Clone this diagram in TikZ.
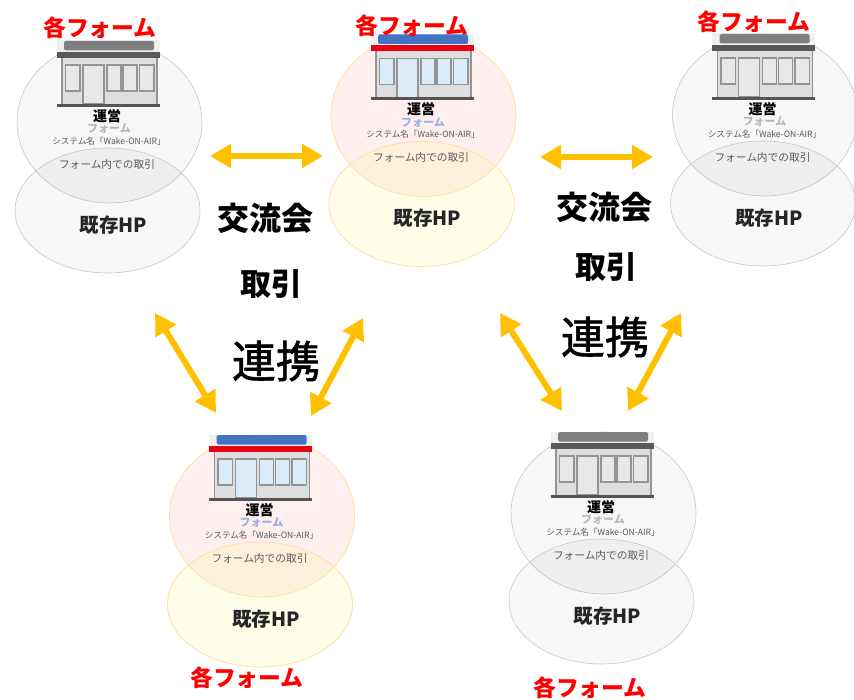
\documentclass[tikz,border=0pt]{standalone}
\usepackage{fontspec}
\setmainfont{Noto Sans CJK JP}
\newfontfamily\tiefont[FakeBold=1.4]{Noto Sans CJK JP}
\usetikzlibrary{arrows.meta,shapes.geometric}
\definecolor{linkcol}{HTML}{FFC000}
\definecolor{signblue}{HTML}{4472C4}
\definecolor{bandred}{HTML}{E60012}
\definecolor{signgray}{HTML}{7F7F7F}
\definecolor{bandgray}{HTML}{595959}
\definecolor{glassblue}{HTML}{D9ECF8}
\definecolor{glassgray}{HTML}{E8E8E8}
\definecolor{basecol}{HTML}{555555}
\definecolor{rimcol}{HTML}{FFDFA8}
\tikzset{
    link/.style={line width=6pt,linkcol,{Triangle[length=21pt,width=23pt]}-{Triangle[length=21pt,width=23pt]}},
    pane/.style={draw=black!42,line width=1.1pt},
    word/.style={inner sep=0pt,font=\fontsize{#1}{#1}\selectfont\bfseries},
    grayarea/.style={draw=black!22,line width=0.6pt,fill=black!55,fill opacity=0.06},
    redarea/.style={draw=rimcol,line width=0.8pt,fill=red!70,fill opacity=0.09},
    yellowarea/.style={draw=rimcol,line width=0.8pt,fill=yellow!70,fill opacity=0.12},
}
% #1 name, #2 #3 shift, #4 #5 areas, #6 sign, #7 band, #8 glass, #9 form text
\newcommand{\formunit}[9]{
    \begin{scope}[shift={(#2,#3)}]
        \node[ellipse,minimum width=185pt,minimum height=162pt,inner sep=0pt,#4] (#1top) at (109.5,122) {};
        \node[ellipse,minimum width=185pt,minimum height=125pt,inner sep=0pt,#5] (#1hp) at (107.5,210.5) {};
        % shop front
        \fill[black!6] (56.5,40.5) rectangle (159.5,53);
        \fill[#6,rounded corners=1.5pt] (64,41) rectangle (154,50.5);
        \fill[#7] (56.5,52) rectangle (159.5,58);
        \fill[black!13] (62,58) rectangle (157,104);
        \draw[black!42,line width=1.2pt] (62,58) -- (62,104) (157,58) -- (157,104);
        \draw[pane,fill=#8] (65.5,65) rectangle (80,91);
        \draw[pane,fill=#8] (83,65) rectangle (104,104);
        \draw[pane,fill=#8] (107,65) rectangle (121,91);
        \draw[pane,fill=#8] (123,65) rectangle (137,91);
        \draw[pane,fill=#8] (139.5,65) rectangle (154,91);
        \fill[basecol] (56.5,104) rectangle (159.5,107);
        \node[word=14] (#1run) at (107,116) {運営};
        \node[word=11,text=#9] (#1form) at (109,129) {フォーム};
        \node[inner sep=0pt,text=black!65,font=\fontsize{8.6}{8.6}\selectfont] (#1sys) at (109,141) {システム名「Wake-ON-AIR」};
        \node[inner sep=0pt,text=black!65,font=\fontsize{10.7}{10.7}\selectfont] (#1deal) at (107,164) {フォーム内での取引};
        \node[word=19.5,text=black!85] (#1name) at (113.5,225) {既存HP};
    \end{scope}
}
\begin{document}
\begin{tikzpicture}[x=1pt,y=-1pt]
    \useasboundingbox (0,0) rectangle (854,700);
    \formunit{a}{0}{0}{grayarea}{grayarea}{signgray}{bandgray}{glassgray}{black!28}
    \formunit{b}{314}{-6.5}{redarea}{yellowarea}{signblue}{bandred}{glassblue}{signblue!55}
    \formunit{c}{655.5}{-7}{grayarea}{grayarea}{signgray}{bandgray}{glassgray}{black!28}
    \formunit{d}{152.5}{394}{redarea}{yellowarea}{signblue}{bandred}{glassblue}{signblue!55}
    \formunit{e}{494}{391}{grayarea}{grayarea}{signgray}{bandgray}{glassgray}{black!28}
    % captions
    \node[word=22.8,text=red] (alabel) at (100,28) {各フォーム};
    \node[word=22.8,text=red] (blabel) at (412,26) {各フォーム};
    \node[word=22.8,text=red] (clabel) at (754,22) {各フォーム};
    \node[word=22.8,text=red] (dlabel) at (247,678) {各フォーム};
    \node[word=22.8,text=red] (elabel) at (590,688) {各フォーム};
    \node[word=32] (meetl) at (265.5,218) {交流会};
    \node[word=31] (dealtl) at (271,284) {取引};
    \node[inner sep=0pt,font=\fontsize{44}{44}\tiefont] (tiel) at (276,361) {連携};
    \node[word=32] (meetr) at (604,207) {交流会};
    \node[word=31] (dealtr) at (606,267) {取引};
    \node[inner sep=0pt,font=\fontsize{44}{44}\tiefont] (tier) at (605,337) {連携};
    % arrow ends
    \coordinate (p1) at (210,156);
    \coordinate (p2) at (323,156);
    \coordinate (p3) at (540,157);
    \coordinate (p4) at (653,157);
    \coordinate (p5) at (155,313);
    \coordinate (p6) at (216,413);
    \coordinate (p7) at (363,318);
    \coordinate (p8) at (311,416);
    \coordinate (p9) at (500,313);
    \coordinate (p10) at (562,411);
    \coordinate (p11) at (681,313);
    \coordinate (p12) at (628,411);
    \draw[link] (p1) -- (p2);
    \draw[link] (p3) -- (p4);
    \draw[link] (p5) -- (p6);
    \draw[link] (p7) -- (p8);
    \draw[link] (p9) -- (p10);
    \draw[link] (p11) -- (p12);
\end{tikzpicture}
\end{document}
